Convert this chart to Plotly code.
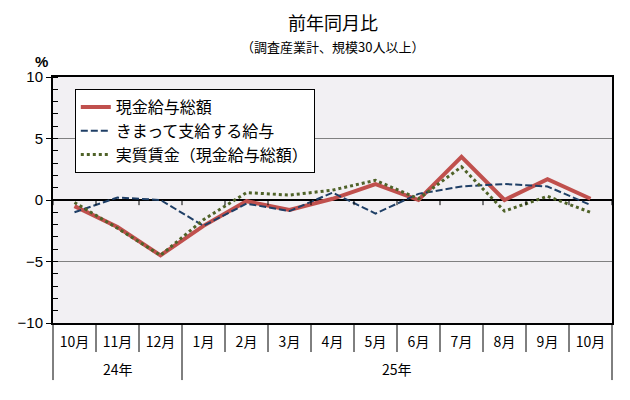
import plotly.graph_objects as go

months = ["10月", "11月", "12月", "1月", "2月", "3月", "4月", "5月", "6月", "7月", "8月", "9月", "10月"]
years = ["24年", "25年"]
year_counts = [3, 10]

cash_total = [-0.5, -2.2, -4.5, -2.1, -0.1, -0.8, 0.1, 1.3, 0.0, 3.5, 0.0, 1.7, 0.1]
scheduled = [-1.0, 0.2, 0.0, -2.1, -0.3, -0.9, 0.6, -1.1, 0.5, 1.1, 1.3, 1.1, -0.4]
real_wage = [-0.2, -2.3, -4.5, -1.6, 0.6, 0.4, 0.8, 1.6, 0.1, 2.7, -0.9, 0.3, -1.0]

names = ["現金給与総額", "きまって支給する給与", "実質賃金（現金給与総額）"]
title_text = "前年同月比"
subtitle_text = "（調査産業計、規模30人以上）"
unit_text = "%"

JP = "Noto Sans CJK JP"
x = list(range(len(months)))

fig = go.Figure()
fig.add_trace(go.Scatter(x=x, y=cash_total, mode="lines", name=names[0],
                         line=dict(color="#C0504D", width=4)))
fig.add_trace(go.Scatter(x=x, y=scheduled, mode="lines", name=names[1],
                         line=dict(color="#1F3F66", width=2, dash="7px,3px")))
fig.add_trace(go.Scatter(x=x, y=real_wage, mode="lines", name=names[2],
                         line=dict(color="#4F6228", width=3, dash="3px,3px")))

n = len(months)
shapes = []
# tick marks on zero line at category boundaries
for i in range(n + 1):
    b = i - 0.5
    shapes.append(dict(type="line", xref="x", yref="y", x0=b, x1=b, y0=0, y1=-0.42,
                       line=dict(color="black", width=1)))
# month separators under the plot
group_edges = [0]
for c in year_counts:
    group_edges.append(group_edges[-1] + c)
for i in range(n + 1):
    px = i / n
    bottom = -0.232 if i in group_edges else -0.118
    shapes.append(dict(type="line", xref="paper", yref="paper", x0=px, x1=px, y0=0, y1=bottom,
                       line=dict(color="black", width=1)))

annotations = []
start = 0
for yl, c in zip(years, year_counts):
    center = start + (c - 1) / 2
    annotations.append(dict(x=center, xref="x", y=-0.185, yref="paper", text=yl, showarrow=False,
                            font=dict(family=JP, size=14, color="black"), yanchor="middle"))
    start += c

annotations.append(dict(x=0.5, xref="paper", y=1.224, yref="paper", text=title_text, showarrow=False,
                        font=dict(family=JP, size=18, color="black"), xanchor="center", yanchor="middle"))
annotations.append(dict(x=0.5, xref="paper", y=1.126, yref="paper", text=subtitle_text, showarrow=False,
                        font=dict(family=JP, size=13, color="black"), xanchor="center", yanchor="middle"))
annotations.append(dict(x=-0.02, xref="paper", y=1.061, yref="paper", text="<b>" + unit_text + "</b>",
                        showarrow=False, font=dict(family="Liberation Sans", size=15, color="black"),
                        xanchor="center", yanchor="middle"))

fig.update_layout(
    width=630, height=400,
    margin=dict(l=53, r=18, t=77, b=77),
    paper_bgcolor="white",
    plot_bgcolor="#F2F0F3",
    showlegend=True,
    legend=dict(x=0.039, y=0.951, xanchor="left", yanchor="top",
                bgcolor="white", bordercolor="black", borderwidth=1,
                font=dict(family=JP, size=16, color="black"),
                itemwidth=30),
    shapes=shapes,
    annotations=annotations,
)

fig.update_xaxes(range=[-0.5, n - 0.5], tickmode="array", tickvals=x, ticktext=months,
                 showgrid=False, zeroline=False, ticks="",
                 showline=True, linecolor="black", linewidth=2, mirror=True,
                 tickfont=dict(family=JP, size=14, color="black"),
                 ticklabelstandoff=5)
fig.update_yaxes(range=[-10, 10], dtick=5, tick0=0, showgrid=True, gridcolor="#808080", gridwidth=1,
                 zeroline=True, zerolinecolor="black", zerolinewidth=1.5,
                 showline=True, linecolor="black", linewidth=2, mirror=True,
                 ticks="outside", ticklen=5, tickcolor="black",
                 minor=dict(dtick=1, ticks="inside", ticklen=5, tickcolor="black", showgrid=False),
                 tickfont=dict(family="Liberation Sans", size=15, color="black"))

fig.write_html("out.html")
